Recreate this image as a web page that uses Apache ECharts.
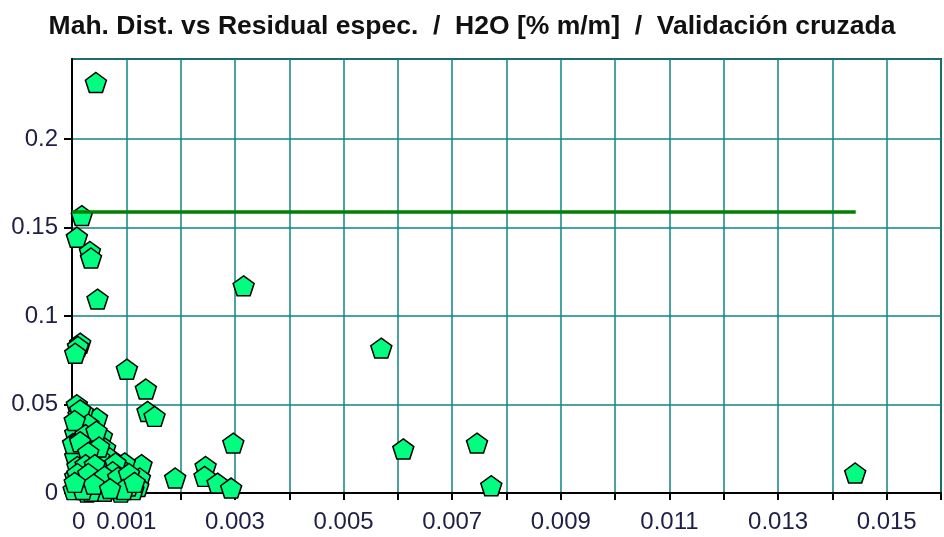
<!DOCTYPE html>
<html>
<head>
<meta charset="utf-8">
<script src="https://cdn.jsdelivr.net/npm/echarts@6/dist/echarts.min.js"></script>
<style>
  html, body { margin: 0; padding: 0; background: #ffffff; }
  #chart { width: 944px; height: 537px; }
</style>
</head>
<body>
<div id="chart"></div>
<script>
// Mahalanobis distance (x) of each sample
var mahalDist = [
  0.00044, 0.00018, 0.00009, 0.00033, 0.00035, 0.00316, 0.00047, 0.00015, 0.00011, 0.00006,
  0.00101, 0.00136, 0.00139, 0.00152, 0.00297, 0.00190, 0.00246, 0.00244, 0.00268, 0.00293,
  0.00128, 0.00125, 0.00122, 0.00097, 0.005695, 0.00610, 0.007457, 0.00772, 0.01442,
  0.00009, 0.00012, 0.00046, 0.00021, 0.00006, 0.00055, 0.00040, 0.00012, 0.00061, 0.00037,
  0.00070, 0.00006, 0.00018, 0.00055, 0.00089, 0.00006, 0.00034, 0.00067, 0.00012, 0.00049,
  0.00080, 0.00113, 0.00003, 0.00098, 0.00025, 0.00030, 0.00020, 0.00045, 0.00070, 0.00010,
  0.00050, 0.00028, 0.00060, 0.00090, 0.00002, 0.00020, 0.00078, 0.00104, 0.00015, 0.00035,
  0.00015, 0.00030, 0.00005, 0.00025, 0.00045, 0.00015, 0.00050, 0.00030, 0.00080, 0.00025,
  0.00042, 0.00075, 0.00010, 0.00030, 0.00060, 0.00085, 0.00105, 0.00020, 0.00040, 0.00095,
  0.00115, 0.00005, 0.00070
];
// Spectral residual (y) of each sample
var specResidual = [
  0.2320, 0.1568, 0.1446, 0.1365, 0.1328, 0.1171, 0.1096, 0.0847, 0.0828, 0.0790,
  0.0700, 0.0588, 0.0461, 0.0433, 0.0282, 0.0085, 0.0150, 0.0094, 0.0056, 0.0028,
  0.0160, 0.0085, 0.0037, 0.0170, 0.0819, 0.0249, 0.0282, 0.0041, 0.0113,
  0.0499, 0.0442, 0.0424, 0.0376, 0.0339, 0.0320, 0.0300, 0.0254, 0.0254, 0.0207,
  0.0198, 0.0207, 0.0141, 0.0141, 0.0141, 0.0094, 0.0085, 0.0085, 0.0037, 0.0028,
  0.0037, 0.0019, 0.0019, 0.0075, 0.0280, 0.0180, 0.0060, 0.0120, 0.0060, 0.0150,
  0.0200, 0.0005, 0.0010, 0.0005, 0.0280, 0.0460, 0.0120, 0.0040, 0.0300, 0.0010,
  0.0470, 0.0390, 0.0410, 0.0330, 0.0350, 0.0290, 0.0260, 0.0230, 0.0170, 0.0160,
  0.0160, 0.0120, 0.0110, 0.0110, 0.0095, 0.0090, 0.0110, 0.0020, 0.0050, 0.0020,
  0.0060, 0.0060, 0.0025
];
// Residual limit line
var limitValue = 0.1588;
var limitX = [0, 0.01443];

// Axis ranges and tick labels
var xMin = 0, xMax = 0.016, xStep = 0.001;
var yMin = 0, yMax = 0.2453, yStep = 0.05;
var xTickLabels = ['0', '0.001', '', '0.003', '', '0.005', '', '0.007', '', '0.009', '', '0.011', '', '0.013', '', '0.015', ''];
var yTickLabels = ['0', '0.05', '0.1', '0.15', '0.2'];

var titleText = 'Mah. Dist. vs Residual espec.  /  H2O [% m/m]  /  Validación cruzada';

var points = mahalDist.map(function (x, i) { return [x, specResidual[i]]; });
var limitLine = limitX.map(function (x) { return [x, limitValue]; });

var pentagon = 'path://M0,-100 L95.1,-30.9 L58.8,80.9 L-58.8,80.9 L-95.1,-30.9 Z';
var labelColor = '#1e1e46';
var gridColor = '#0f8686';

var chart = echarts.init(document.getElementById('chart'), null, { renderer: 'canvas' });
chart.setOption({
  backgroundColor: '#ffffff',
  animation: false,
  title: {
    text: titleText,
    left: 'center',
    top: 8,
    textStyle: {
      fontFamily: 'Liberation Sans, Arial, sans-serif',
      fontWeight: 'bold',
      fontSize: 26.5,
      color: '#111111'
    }
  },
  grid: {
    left: 72, right: 1, top: 59, bottom: 44,
    show: true,
    borderColor: '#333333',
    borderWidth: 2,
    backgroundColor: 'transparent'
  },
  xAxis: {
    type: 'value',
    min: xMin, max: xMax, interval: xStep,
    axisLine: { show: true, onZero: false, lineStyle: { color: '#000000', width: 2 } },
    axisTick: { show: true, length: 7, lineStyle: { color: '#000000', width: 2 } },
    splitLine: { show: true, lineStyle: { color: gridColor, width: 1.5 } },
    axisLabel: {
      margin: 17,
      fontFamily: 'Liberation Sans, Arial, sans-serif',
      fontSize: 24,
      color: labelColor,
      alignMinLabel: 'left',
      formatter: function (v) {
        var k = Math.round(v / xStep);
        return xTickLabels[k] !== undefined ? xTickLabels[k] : '';
      }
    }
  },
  yAxis: {
    type: 'value',
    min: yMin, max: yMax, interval: yStep,
    axisLine: { show: true, onZero: false, lineStyle: { color: '#000000', width: 2 } },
    axisTick: { show: true, length: 8, lineStyle: { color: '#000000', width: 2 } },
    splitLine: { show: true, lineStyle: { color: gridColor, width: 1.5 } },
    axisLabel: {
      margin: 14,
      fontFamily: 'Liberation Sans, Arial, sans-serif',
      fontSize: 24,
      color: labelColor,
      showMaxLabel: false,
      formatter: function (v) {
        var k = Math.round(v / yStep);
        if (Math.abs(v - k * yStep) > 1e-9) return '';
        return yTickLabels[k] !== undefined ? yTickLabels[k] : '';
      }
    }
  },
  series: [
    {
      type: 'scatter',
      data: points,
      symbol: pentagon,
      symbolSize: [21, 20],
      itemStyle: { color: '#00ff80', opacity: 1, borderColor: '#000000', borderWidth: 1.5 },
      z: 3
    },
    {
      type: 'line',
      data: limitLine,
      showSymbol: false,
      symbol: 'none',
      lineStyle: { color: '#008000', width: 3.5 },
      z: 4
    }
  ]
});
</script>
</body>
</html>
